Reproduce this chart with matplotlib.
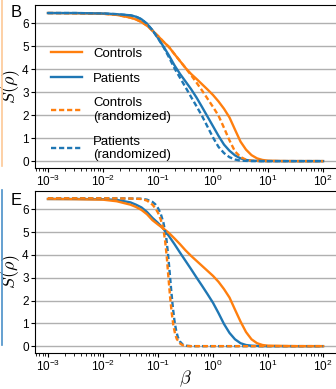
import numpy as np
import matplotlib

matplotlib.use("Agg")
import matplotlib.pyplot as plt
from matplotlib.lines import Line2D

plt.rcParams["font.family"] = ["Liberation Sans", "DejaVu Sans"]
plt.rcParams["mathtext.fontset"] = "cm"

ORANGE = "#ff7f0e"
BLUE = "#1f77b4"

# panel B: log10(beta) grid shared by the four curves
logb_B = [-3, -2.5, -2, -1.75, -1.5, -1.4, -1.3, -1.2, -1.1, -1.0, -0.9, -0.8, -0.7, -0.6,
          -0.5, -0.4, -0.3, -0.2, -0.1, 0, 0.1, 0.2, 0.3, 0.4, 0.5, 0.6, 0.7, 0.8, 0.9,
          1.0, 1.25, 1.5, 2.0]
B_controls = [6.45, 6.44, 6.42, 6.37, 6.25, 6.17, 6.06, 5.9, 5.68, 5.45, 5.2, 4.97, 4.66, 4.36,
              4.06, 3.8, 3.58, 3.35, 3.12, 2.88, 2.6, 2.28, 1.9, 1.37, 0.85, 0.5, 0.26, 0.12, 0.05,
              0.02, 0.005, 0.0, 0.0]
B_patients = [6.45, 6.45, 6.43, 6.4, 6.35, 6.29, 6.18, 5.98, 5.7, 5.36, 4.99, 4.6, 4.17, 3.8,
              3.47, 3.14, 2.77, 2.36, 1.94, 1.52, 1.1, 0.72, 0.45, 0.25, 0.12, 0.05, 0.02, 0.01, 0.0,
              0.0, 0.0, 0.0, 0.0]
B_controls_rand = [6.45, 6.44, 6.42, 6.37, 6.25, 6.17, 6.06, 5.9, 5.68, 5.45, 5.2, 4.97, 4.66, 4.36,
                   4.06, 3.75, 3.42, 3.08, 2.72, 2.36, 1.98, 1.45, 0.9, 0.42, 0.18, 0.06, 0.02, 0.01, 0.0,
                   0.0, 0.0, 0.0, 0.0]
B_patients_rand = [6.45, 6.45, 6.43, 6.4, 6.35, 6.29, 6.18, 5.98, 5.7, 5.35, 4.97, 4.52, 4.04, 3.63,
                   3.22, 2.8, 2.39, 1.97, 1.5, 1.03, 0.62, 0.35, 0.17, 0.07, 0.02, 0.01, 0.0, 0.0, 0.0,
                   0.0, 0.0, 0.0, 0.0]

# panel E
logb_E = logb_B
E_controls = [6.45, 6.44, 6.42, 6.35, 6.2, 6.1, 5.97, 5.78, 5.52, 5.33, 5.15, 4.96, 4.72, 4.47,
              4.2, 3.96, 3.74, 3.52, 3.3, 3.08, 2.82, 2.5, 2.13, 1.6, 1.08, 0.62, 0.3, 0.13, 0.05,
              0.02, 0.01, 0.0, 0.0]
E_patients = [6.45, 6.45, 6.44, 6.41, 6.3, 6.2, 6.08, 5.88, 5.62, 5.4, 5.14, 4.82, 4.47, 4.1,
              3.74, 3.38, 3.01, 2.65, 2.28, 1.9, 1.45, 0.97, 0.58, 0.3, 0.13, 0.05, 0.02, 0.01, 0.0,
              0.0, 0.0, 0.0, 0.0]

logb_E_ctrl_rand = [-3, -2, -1.5, -1.3, -1.2, -1.1, -1.05, -1.0, -0.95, -0.9, -0.87, -0.84,
                    -0.81, -0.78, -0.75, -0.72, -0.69, -0.66, -0.6, -0.55, -0.5, -0.4, 0, 1, 2]
E_controls_rand = [6.48, 6.48, 6.47, 6.45, 6.38, 6.2, 6.05, 5.85, 5.55, 5.1, 4.6, 3.9,
                   3.0, 2.15, 1.45, 0.9, 0.55, 0.32, 0.12, 0.04, 0.01, 0.0, 0.0, 0.0, 0.0]

logb_E_pat_rand = [-3, -2, -1.5, -1.3, -1.2, -1.1, -1.05, -1.0, -0.95, -0.9, -0.85, -0.82,
                   -0.79, -0.76, -0.73, -0.70, -0.67, -0.64, -0.6, -0.55, -0.5, -0.45, -0.4, 0, 1, 2]
E_patients_rand = [6.48, 6.48, 6.47, 6.46, 6.42, 6.32, 6.22, 6.05, 5.8, 5.4, 4.75, 4.1,
                   3.3, 2.45, 1.7, 1.1, 0.68, 0.4, 0.2, 0.07, 0.02, 0.01, 0.0, 0.0, 0.0, 0.0]

W, H = 336, 389
fig = plt.figure(figsize=(W / 100, H / 100), dpi=100)
ax_b = fig.add_axes([35 / W, 1 - 168 / H, 1 - 35 / W, (168 - 5) / H])
ax_e = fig.add_axes([35 / W, 1 - 353 / H, 1 - 35 / W, (353 - 191) / H])


def style(ax):
    ax.set_xscale("log")
    ax.set_xlim(10 ** -3.236, 10 ** 2.236)
    ax.set_ylim(-0.3, 6.8)
    ax.set_yticks(range(7))
    ax.grid(axis="y", color="#b0b0b0", lw=1.0)
    ax.grid(axis="x", visible=False)
    ax.set_axisbelow(True)
    ax.spines["right"].set_visible(False)
    ax.tick_params(labelsize=8.5, length=3, width=0.8, pad=1.5)
    ax.tick_params(which="minor", length=1.8, width=0.6)
    ax.set_ylabel(r"$S(\rho)$", fontsize=13, va="center")
    # label centre sits ~11 px from the figure's left edge
    ax.yaxis.set_label_coords(-24 / 301, 0.5)


lw = 1.7
dash = (0, (2.2, 1.2))
ax_b.plot(np.power(10.0, logb_B), B_controls, color=ORANGE, lw=lw, label="Controls")
ax_b.plot(np.power(10.0, logb_B), B_patients, color=BLUE, lw=lw, label="Patients")
ax_b.plot(np.power(10.0, logb_B), B_controls_rand, color=ORANGE, lw=lw, ls=dash,
          label="Controls\n(randomized)")
ax_b.plot(np.power(10.0, logb_B), B_patients_rand, color=BLUE, lw=lw, ls=dash,
          label="Patients\n(randomized)")
style(ax_b)
ax_b.legend(loc="upper left", bbox_to_anchor=(0.035, 0.77), frameon=False, fontsize=9.5,
            handlelength=2.4, labelspacing=0.95, borderaxespad=0, handletextpad=0.8)

ax_e.plot(np.power(10.0, logb_E), E_patients, color=BLUE, lw=lw)
ax_e.plot(np.power(10.0, logb_E), E_controls, color=ORANGE, lw=lw)
ax_e.plot(np.power(10.0, logb_E_pat_rand), E_patients_rand, color=BLUE, lw=lw, ls=dash)
ax_e.plot(np.power(10.0, logb_E_ctrl_rand), E_controls_rand, color=ORANGE, lw=lw, ls=dash)
style(ax_e)
ax_e.set_xlabel(r"$\beta$", fontsize=13, va="center")
ax_e.xaxis.set_label_coords(0.5, -26 / 162)

fig.text(11 / W, 1 - 17 / H, "B", fontsize=12, va="baseline")
fig.text(11 / W, 1 - 205 / H, "E", fontsize=12, va="baseline")

fig.add_artist(Line2D([1.5 / W, 1.5 / W], [1, 1 - 166 / H], color="#fdc896", lw=1.2))
fig.add_artist(Line2D([1.5 / W, 1.5 / W], [1 - 190 / H, 1 - 345 / H], color="#4a90c8", lw=1.2))

fig.savefig("out.png", dpi=100)
